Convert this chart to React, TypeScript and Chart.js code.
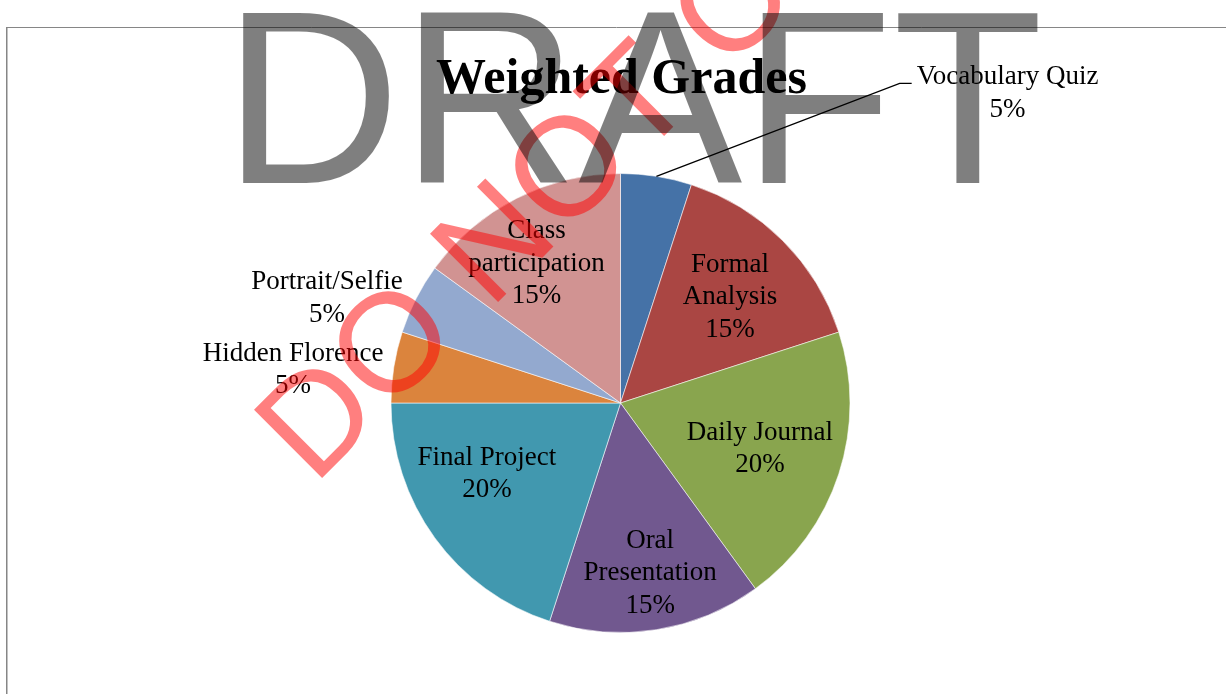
import { useEffect, useRef } from 'react';
import { Chart, registerables } from 'chart.js';

Chart.register(...registerables);

// ---- data ----
const categories = [
  'Vocabulary Quiz',
  'Formal Analysis',
  'Daily Journal',
  'Oral Presentation',
  'Final Project',
  'Hidden Florence',
  'Portrait/Selfie',
  'Class participation',
];
const weights = [5, 15, 20, 15, 20, 5, 5, 15];
const sliceColors = ['#4572A7', '#AA4643', '#89A54E', '#71588F', '#4198AF', '#DB843D', '#93A9CF', '#D19392'];
// how each category label is wrapped in the picture
const labelLines = [
  ['Vocabulary Quiz'],
  ['Formal', 'Analysis'],
  ['Daily Journal'],
  ['Oral', 'Presentation'],
  ['Final Project'],
  ['Hidden Florence'],
  ['Portrait/Selfie'],
  ['Class', 'participation'],
];
// label placement relative to each slice: angle shift from mid-angle (deg), distance in radii
const labelAngleShift = [43, 2.9, 2.8, -0.5, 5.7, -4.5, -8.6, -5.5];
const labelRadius = [2.14, 0.643, 0.65, 0.782, 0.674, 1.431, 1.348, 0.682];
const labelLeader = [true, false, false, false, false, false, false, false];
const chartTitle = 'Weighted Grades';
const watermarkMain = 'DRAFT';
const watermarkStamp = 'DO NOT COPY';

const SERIF = '"Liberation Serif", "Times New Roman", serif';
const SANS = '"Liberation Sans", Arial, sans-serif';

const decorPlugin = {
  id: 'decor',
  beforeDraw(chart: any) {
    const ctx = chart.ctx as CanvasRenderingContext2D;
    ctx.save();
    ctx.fillStyle = '#ffffff';
    ctx.fillRect(0, 0, chart.width, chart.height);
    ctx.strokeStyle = '#868686';
    ctx.lineWidth = 1;
    ctx.beginPath();
    ctx.moveTo(6, 27.5);
    ctx.lineTo(chart.width + 5, 27.5);
    ctx.stroke();
    ctx.lineWidth = 1.5;
    ctx.beginPath();
    ctx.moveTo(6.75, 27);
    ctx.lineTo(6.75, chart.height + 5);
    ctx.stroke();
    ctx.restore();
  },
  afterDatasetsDraw(chart: any) {
    const ctx = chart.ctx as CanvasRenderingContext2D;
    const meta = chart.getDatasetMeta(0);
    const data = chart.data.datasets[0].data as number[];
    const total = data.reduce((a, b) => a + b, 0);
    const lineH = 32.5;
    ctx.save();
    ctx.font = `27px ${SERIF}`;
    ctx.fillStyle = '#000000';
    ctx.textAlign = 'center';
    ctx.textBaseline = 'alphabetic';
    meta.data.forEach((arc: any, i: number) => {
      const { x, y, startAngle, endAngle, outerRadius } = arc.getProps(
        ['x', 'y', 'startAngle', 'endAngle', 'outerRadius'],
        true
      );
      const mid = (startAngle + endAngle) / 2;
      const a = mid + (labelAngleShift[i] * Math.PI) / 180;
      const ax = x + Math.cos(a) * outerRadius * labelRadius[i];
      const ay = y + Math.sin(a) * outerRadius * labelRadius[i];
      const pct = Math.round((data[i] / total) * 100) + '%';
      const lines = [...labelLines[i], pct];
      const n = lines.length;
      let maxW = 0;
      lines.forEach((t, k) => {
        const by = ay + (k - (n - 1) / 2) * lineH;
        ctx.fillText(t, ax, by);
        maxW = Math.max(maxW, ctx.measureText(t).width);
      });
      if (labelLeader[i]) {
        const firstBase = ay - ((n - 1) / 2) * lineH;
        const left = ax - maxW / 2;
        const sx = x + Math.cos(mid) * outerRadius;
        const sy = y + Math.sin(mid) * outerRadius;
        ctx.strokeStyle = '#000000';
        ctx.lineWidth = 1.3;
        ctx.beginPath();
        ctx.moveTo(sx, sy);
        ctx.lineTo(left - 17, firstBase - 1);
        ctx.lineTo(left - 5, firstBase - 1);
        ctx.stroke();
      }
    });
    // title
    const ca = chart.chartArea;
    ctx.font = `bold 50px ${SERIF}`;
    ctx.fillText(chartTitle, (ca.left + ca.right) / 2 + 1, 93);
    ctx.restore();
  },
  afterDraw(chart: any) {
    const ctx = chart.ctx as CanvasRenderingContext2D;
    ctx.save();
    // red stamp
    ctx.translate(314, 486);
    ctx.rotate(-Math.PI / 4);
    ctx.font = `140px ${SANS}`;
    ctx.fillStyle = 'rgba(255,0,0,0.5)';
    ctx.textAlign = 'left';
    ctx.textBaseline = 'alphabetic';
    ctx.fillText(watermarkStamp, 0, 0);
    ctx.restore();
    ctx.save();
    ctx.font = `246px ${SANS}`;
    ctx.fillStyle = 'rgba(0,0,0,0.5)';
    ctx.textAlign = 'left';
    ctx.textBaseline = 'alphabetic';
    ctx.fillText(watermarkMain, 223, 183);
    ctx.restore();
  },
};

export default function App() {
  const canvasRef = useRef<HTMLCanvasElement | null>(null);

  useEffect(() => {
    if (!canvasRef.current) return;
    const chart = new Chart(canvasRef.current, {
      type: 'pie',
      data: {
        labels: categories,
        datasets: [
          {
            data: weights,
            backgroundColor: sliceColors,
            borderColor: 'rgba(255,255,255,0.55)',
            borderWidth: 1,
          },
        ],
      },
      options: {
        animation: false,
        responsive: true,
        maintainAspectRatio: false,
        events: [],
        layout: { padding: { top: 173, bottom: 61, left: 390.5, right: 375.5 } },
        plugins: {
          legend: { display: false },
          tooltip: { enabled: false },
          title: { display: false },
        },
      },
      plugins: [decorPlugin],
    });
    return () => chart.destroy();
  }, []);

  return (
    <div style={{ position: 'fixed', left: 0, top: 0, width: 1226, height: 694, background: '#fff' }}>
      <canvas ref={canvasRef} />
    </div>
  );
}
